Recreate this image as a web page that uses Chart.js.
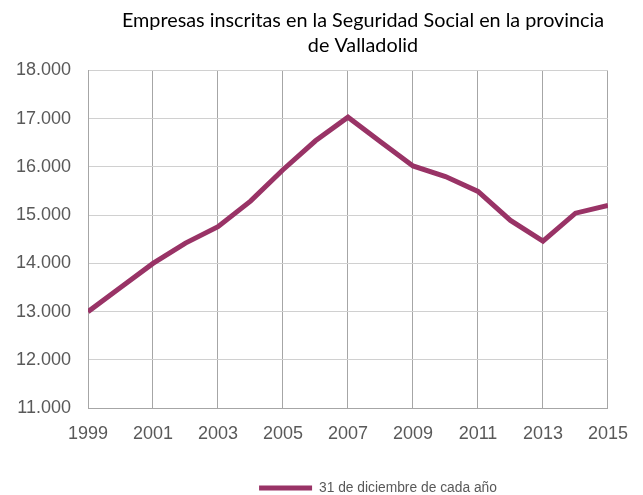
<!DOCTYPE html>
<html>
<head>
<meta charset="utf-8">
<script src="https://cdn.jsdelivr.net/npm/chart.js@4"></script>
<style>
  html, body { margin: 0; padding: 0; background: #fff; }
  #wrap { width: 643px; height: 495px; }
</style>
</head>
<body>
<div id="wrap"><canvas id="chart" width="643" height="495"></canvas></div>
<script>
// data
const years = [1999, 2000, 2001, 2002, 2003, 2004, 2005, 2006, 2007, 2008, 2009, 2010, 2011, 2012, 2013, 2014, 2015];
const empresas = [13000, 13500, 14000, 14420, 14760, 15290, 15940, 16540, 17030, 16520, 16020, 15800, 15490, 14890, 14460, 15040, 15200];
const seriesLabel = '31 de diciembre de cada año';
const titleLines = ['Empresas inscritas en la Seguridad Social en la provincia', 'de Valladolid'];

const lineColor = '#993366';
const tickColor = '#595959';

// 13000 -> "13.000"
function fmtMiles(v) {
  return String(v).replace(/\B(?=(\d{3})+(?!\d))/g, '.');
}

// title and legend sit off centre in the original, nudge them over
const nudge = {
  id: 'nudge',
  afterLayout(chart) {
    const t = chart.titleBlock;
    t.left += 59; t.right += 59;
    const l = chart.legend;
    l.left += 74; l.right += 74;
    l.top += 10; l.bottom += 10;
  }
};

const ctx = document.getElementById('chart').getContext('2d');
const chart = new Chart(ctx, {
  type: 'line',
  data: {
    datasets: [{
      label: seriesLabel,
      data: years.map((y, i) => ({ x: y, y: empresas[i] })),
      borderColor: lineColor,
      backgroundColor: lineColor,
      borderWidth: 5,
      pointRadius: 0,
      pointStyle: 'line',
      tension: 0
    }]
  },
  options: {
    responsive: false,
    animation: false,
    layout: { padding: { left: 0, right: 35, top: 0, bottom: 0 } },
    scales: {
      x: {
        type: 'linear',
        min: 1999,
        max: 2015,
        afterFit: s => { s.height = 61; },
        ticks: {
          stepSize: 2,
          color: tickColor,
          font: { family: 'Liberation Sans', size: 18 },
          padding: 15,
          callback: v => String(v)
        },
        grid: { color: '#a6a6a6', drawTicks: false },
        border: { color: '#a6a6a6' }
      },
      y: {
        min: 11000,
        max: 18000,
        afterFit: s => { s.width = 88; },
        ticks: {
          stepSize: 1000,
          color: tickColor,
          font: { family: 'Liberation Sans', size: 18 },
          padding: 17,
          callback: v => fmtMiles(v)
        },
        grid: { color: '#d0d0d0', drawTicks: false },
        border: { color: '#a6a6a6' }
      }
    },
    plugins: {
      title: {
        display: true,
        text: titleLines,
        color: '#000',
        font: { family: 'Lato', size: 19.8, weight: 'normal', lineHeight: 1.22 },
        padding: { top: 9, bottom: 13 },
        align: 'center'
      },
      legend: {
        position: 'bottom',
        labels: {
          usePointStyle: true,
          pointStyleWidth: 53,
          color: tickColor,
          font: { family: 'Liberation Sans', size: 13.8 },
          padding: 2
        }
      },
      tooltip: { enabled: false }
    }
  },
  plugins: [nudge]
});
</script>
</body>
</html>
